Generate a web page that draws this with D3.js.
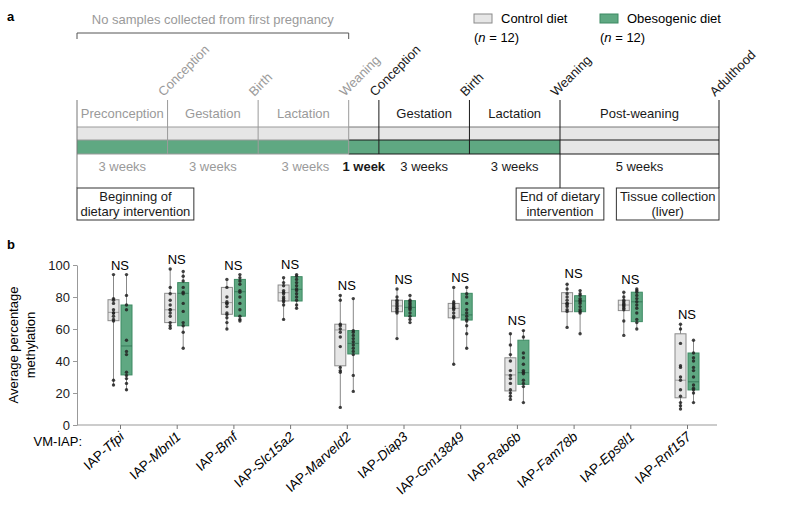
<!DOCTYPE html>
<html>
<head>
<meta charset="utf-8">
<script src="https://cdn.jsdelivr.net/npm/d3@7"></script>
<style>
body { margin: 0; background: #fff; }
svg { font-family: "Liberation Sans", Arial, sans-serif; }
</style>
</head>
<body>
<svg id="fig" width="800" height="520"></svg>
<script>
// ---- panel a : timeline ----
const phaseNames = ['Preconception', 'Gestation', 'Lactation', '', 'Gestation', 'Lactation', 'Post-weaning'];
const phaseDur = ['3 weeks', '3 weeks', '3 weeks', '1 week', '3 weeks', '3 weeks', '5 weeks'];
const phaseEdges = [0, 3, 6, 9, 10, 13, 16, 21];   // weeks
const milestoneNames = ['Conception', 'Birth', 'Weaning', 'Conception', 'Birth', 'Weaning', 'Adulthood'];
const milestoneWeeks = [3, 6, 9, 10, 13, 16, 21];
const dietEnd = 16;        // obesogenic diet given up to weaning
const firstPregEnd = 9;    // first pregnancy greyed out
const notes = [['Beginning of', 'dietary intervention'], ['End of dietary', 'intervention'], ['Tissue collection', '(liver)']];
const noteWeeks = [0, 16, 21];
const legendNames = ['Control diet', 'Obesogenic diet'];
const legendN = ['12', '12'];

// ---- panel b : methylation boxes ----
const genes = ['Tfpi', 'Mbnl1', 'Bmf', 'Slc15a2', 'Marveld2', 'Diap3', 'Gm13849', 'Rab6b', 'Fam78b', 'Eps8l1', 'Rnf157'];
// [min, q1, median, q3, max]
const ctrlBox = [
  [24.6, 65.2, 70.4, 78.3, 93.8], [60.4, 64, 72, 82.3, 97.5], [59.8, 69.2, 76.5, 86, 90.6],
  [65.6, 77.5, 82.7, 87.5, 91.7], [10.8, 37, 59.4, 63, 81.3], [53.5, 70.8, 74.4, 78, 84.8],
  [37.5, 67, 72.9, 76, 85.8], [16.3, 21.3, 31.3, 42, 57.3], [61, 70.8, 76, 82.7, 88.5],
  [56.3, 71.5, 75, 78, 82.9], [10.4, 17, 28, 57, 63]
];
const obBox = [
  [21.5, 31.3, 49.4, 75, 93.8], [48, 62, 82.3, 89, 95.8], [65, 68, 83.3, 91, 93.8],
  [72.5, 77.5, 84.8, 92.7, 94.2], [20.8, 44.4, 51, 59, 79], [64, 68, 73.5, 77.7, 80.8],
  [47.5, 65.6, 68.8, 82.3, 86.5], [14, 25.4, 32.7, 53, 59.4], [56.9, 70.8, 77.5, 80.8, 83.8],
  [60.4, 64.6, 77, 83, 85], [14, 21.9, 27, 45, 53]
];
const ctrlPts = [
  [94, 79, 78, 76, 72, 70, 70, 68, 66, 65, 28, 25],
  [97.5, 86, 82, 78, 75, 72, 72, 70, 68, 64, 62, 60.5],
  [91, 86, 80, 77, 76, 76, 74, 70, 69, 67, 64, 60],
  [92, 89, 87, 84, 83, 82, 80, 79, 78, 77, 75, 66],
  [81, 78, 63, 62, 60, 58, 55, 49, 36, 34, 33, 11],
  [85, 80, 78, 77, 76, 75, 74, 73, 72, 71, 70, 54],
  [86, 77, 76, 75, 74, 73, 73, 72, 70, 68, 67, 38],
  [57, 50, 44, 40, 34, 31, 29, 26, 22, 20, 18, 16],
  [88, 85, 82, 80, 78, 76, 76, 75, 74, 72, 71, 61],
  [83, 80, 78, 77, 76, 75, 75, 74, 73, 72, 65, 56],
  [63, 60, 51, 37, 36, 30, 28, 22, 18, 14, 12, 10]
];
const obPts = [
  [94, 81, 75, 72, 53, 46, 44, 33, 31, 29, 26, 22],
  [96, 93, 90, 86, 83, 82, 76, 71, 64, 62, 58, 48],
  [94, 92, 90, 88, 84, 83, 80, 76, 72, 68, 66, 65],
  [94, 93, 91, 89, 87, 85, 84, 82, 80, 78, 75, 73],
  [79, 59, 58, 56, 54, 52, 50, 48, 46, 44, 31, 21],
  [81, 78, 77, 76, 75, 74, 73, 72, 70, 68, 66, 64],
  [86, 82, 80, 76, 72, 70, 68, 66, 65, 62, 57, 48],
  [59, 55, 45, 42, 38, 34, 33, 32, 28, 26, 24, 14],
  [84, 82, 81, 79, 78, 77, 76, 74, 72, 71, 70, 57],
  [85, 84, 83, 81, 79, 77, 75, 73, 70, 66, 64, 60],
  [53, 45, 42, 40, 36, 34, 30, 25, 23, 22, 20, 14]
];
const yTicks = [0, 20, 40, 60, 80, 100];

const grey = '#e6e6e6', green = '#5fa882';
const faded = '#9a9a9a', ink = '#1a1a1a';

const svg = d3.select('#fig');

// panel letters
svg.append('text').attr('x', 7).attr('y', 21).attr('font-size', 13).attr('font-weight', 'bold').text('a');
svg.append('text').attr('x', 7).attr('y', 249).attr('font-size', 13).attr('font-weight', 'bold').text('b');

// ===== panel a =====
const tx = d3.scaleLinear().domain([0, dietEnd, 21]).range([77, 560, 719]);
const a = svg.append('g');
const rowTop = 127, rowMid = 140, rowBot = 154;

// bracket over first pregnancy
a.append('path')
  .attr('d', `M${tx(0)},39V33H${tx(firstPregEnd)}V39`)
  .attr('fill', 'none').attr('stroke', '#555').attr('stroke-width', 1);
a.append('text').attr('x', (tx(0) + tx(firstPregEnd)) / 2).attr('y', 24)
  .attr('text-anchor', 'middle').attr('font-size', 13).attr('fill', faded)
  .text('No samples collected from first pregnancy');

// bars
const segs = d3.range(phaseNames.length);
a.selectAll('.rowc').data(segs).enter().append('rect')
  .attr('x', i => tx(phaseEdges[i])).attr('width', i => tx(phaseEdges[i + 1]) - tx(phaseEdges[i]))
  .attr('y', rowTop).attr('height', rowMid - rowTop).attr('fill', grey);
a.selectAll('.rowo').data(segs).enter().append('rect')
  .attr('x', i => tx(phaseEdges[i])).attr('width', i => tx(phaseEdges[i + 1]) - tx(phaseEdges[i]))
  .attr('y', rowMid).attr('height', rowBot - rowMid)
  .attr('fill', i => phaseEdges[i] < dietEnd ? green : grey);

// horizontal lines
[rowTop, rowMid, rowBot].forEach(yy => {
  a.append('line').attr('x1', tx(0)).attr('x2', tx(firstPregEnd)).attr('y1', yy).attr('y2', yy)
    .attr('stroke', faded).attr('stroke-width', 1);
  a.append('line').attr('x1', tx(firstPregEnd)).attr('x2', tx(21)).attr('y1', yy).attr('y2', yy)
    .attr('stroke', yy === rowTop ? '#777' : ink).attr('stroke-width', 1);
});

// vertical lines
a.selectAll('.vline').data(phaseEdges).enter().append('line')
  .attr('x1', d => tx(d)).attr('x2', d => tx(d))
  .attr('y1', 100)
  .attr('y2', d => noteWeeks.includes(d) ? 188 : rowBot)
  .attr('stroke', d => d <= firstPregEnd && d !== 0 ? faded : (d === 0 ? '#777' : ink))
  .attr('stroke-width', 1);

// phase names and durations
a.selectAll('.pname').data(segs).enter().append('text')
  .attr('x', i => (tx(phaseEdges[i]) + tx(phaseEdges[i + 1])) / 2).attr('y', 118)
  .attr('text-anchor', 'middle').attr('font-size', 13)
  .attr('fill', i => phaseEdges[i + 1] <= firstPregEnd ? faded : ink)
  .text(i => phaseNames[i]);
a.selectAll('.pdur').data(segs).enter().append('text')
  .attr('x', i => (tx(phaseEdges[i]) + tx(phaseEdges[i + 1])) / 2 + (i === 2 ? 2 : 0)).attr('y', 171)
  .attr('text-anchor', 'middle').attr('font-size', 13)
  .attr('font-weight', i => phaseDur[i] === '1 week' ? 'bold' : 'normal')
  .attr('fill', i => phaseEdges[i + 1] <= firstPregEnd ? faded : ink)
  .text(i => phaseDur[i]);

// milestones
a.selectAll('.ms').data(milestoneWeeks).enter().append('text')
  .attr('transform', d => `translate(${tx(d) - 4},97) rotate(-45)`)
  .attr('font-size', 13)
  .attr('fill', (d, i) => i < 3 ? faded : ink)
  .text((d, i) => milestoneNames[i]);

// note boxes
notes.forEach((lines, k) => {
  const g = a.append('g');
  const t = g.append('text').attr('font-size', 13).attr('text-anchor', 'middle').attr('fill', ink);
  lines.forEach((l, j) => t.append('tspan').attr('x', 0).attr('y', 201 + j * 15).text(l));
  const w = t.node().getBBox().width + 7;
  let cx;
  if (k === 0) cx = tx(noteWeeks[k]) + w / 2;
  else if (k === notes.length - 1) cx = tx(noteWeeks[k]) - w / 2;
  else cx = tx(noteWeeks[k]);
  g.insert('rect', 'text').attr('x', -w / 2).attr('y', 188).attr('width', w).attr('height', 32)
    .attr('fill', '#fff').attr('stroke', '#333').attr('stroke-width', 1);
  g.attr('transform', `translate(${cx},0)`);
});

// legend
const legX = [474, 600];
legendNames.forEach((name, i) => {
  a.append('rect').attr('x', legX[i]).attr('y', 14).attr('width', 18).attr('height', 9)
    .attr('fill', i ? green : grey).attr('stroke', i ? '#3d8a63' : '#8a8a8a');
  a.append('text').attr('x', legX[i] + 27).attr('y', 23).attr('font-size', 13).text(name);
  const t = a.append('text').attr('x', legX[i]).attr('y', 42).attr('font-size', 13);
  t.append('tspan').text('(');
  t.append('tspan').attr('font-style', 'italic').text('n');
  t.append('tspan').text(' = ' + legendN[i] + ')');
});

// ===== panel b =====
const x = d3.scalePoint().domain(genes).range([120, 687]);
const y = d3.scaleLinear().domain([0, 100]).range([425, 265]);
const b = svg.append('g');

// y axis
const yAxis = b.append('g').attr('transform', 'translate(77,0)')
  .call(d3.axisLeft(y).tickValues(yTicks).tickSize(4).tickSizeOuter(0));
yAxis.selectAll('path, line').attr('stroke', '#999');
yAxis.selectAll('text').attr('font-size', 13).attr('fill', ink).attr('font-family', null);

// x axis
b.append('line').attr('x1', 77).attr('x2', 717).attr('y1', 425).attr('y2', 425).attr('stroke', '#999');
const xAxis = b.append('g').attr('transform', 'translate(0,425)')
  .call(d3.axisBottom(x).tickSize(4).tickFormat(''));
xAxis.select('.domain').remove();
xAxis.selectAll('line').attr('stroke', '#777');

// y label
b.append('text').attr('transform', 'translate(18,345) rotate(-90)')
  .attr('text-anchor', 'middle').attr('font-size', 13).text('Average percentage');
b.append('text').attr('transform', 'translate(35,345) rotate(-90)')
  .attr('text-anchor', 'middle').attr('font-size', 13).text('methylation');

b.append('text').attr('x', 82).attr('y', 446).attr('text-anchor', 'end').attr('font-size', 13).text('VM-IAP:');

// category labels
genes.forEach(gn => {
  const t = b.append('text')
    .attr('transform', `translate(${x(gn) + 5},438) rotate(-42)`)
    .attr('text-anchor', 'end').attr('font-size', 13.5);
  t.append('tspan').text('IAP-');
  t.append('tspan').attr('font-style', 'italic').text(gn);
});

// boxes
const groups = [
  {box: ctrlBox, pts: ctrlPts, off: -6.5, fill: grey, stroke: '#8a8a8a', med: '#8a8a8a'},
  {box: obBox, pts: obPts, off: 6.5, fill: green, stroke: '#3d8a63', med: '#2f6f50'}
];
const bw = 11;
groups.forEach(gr => {
  const gg = b.selectAll(null).data(genes).enter().append('g')
    .attr('transform', d => `translate(${x(d) + gr.off},0)`);
  gg.append('line').attr('y1', (d, i) => y(gr.box[i][0])).attr('y2', (d, i) => y(gr.box[i][4]))
    .attr('stroke', '#888').attr('stroke-width', 1);
  gg.append('rect').attr('x', -bw / 2).attr('width', bw)
    .attr('y', (d, i) => y(gr.box[i][3]))
    .attr('height', (d, i) => y(gr.box[i][1]) - y(gr.box[i][3]))
    .attr('fill', gr.fill).attr('stroke', gr.stroke).attr('stroke-width', 1);
  gg.append('line').attr('x1', -bw / 2).attr('x2', bw / 2)
    .attr('y1', (d, i) => y(gr.box[i][2])).attr('y2', (d, i) => y(gr.box[i][2]))
    .attr('stroke', gr.med).attr('stroke-width', 0.8);
  gg.each(function (d, i) {
    d3.select(this).selectAll('circle').data(gr.pts[i]).enter().append('circle')
      .attr('cx', 0).attr('cy', v => y(v)).attr('r', 1.7)
      .attr('fill', '#222').attr('fill-opacity', 0.85);
  });
});

// NS labels
genes.forEach((gn, i) => {
  const top = Math.max(ctrlBox[i][4], obBox[i][4]);
  b.append('text').attr('x', x(gn)).attr('y', y(top) - 5)
    .attr('text-anchor', 'middle').attr('font-size', 13).text('NS');
});
</script>
</body>
</html>
